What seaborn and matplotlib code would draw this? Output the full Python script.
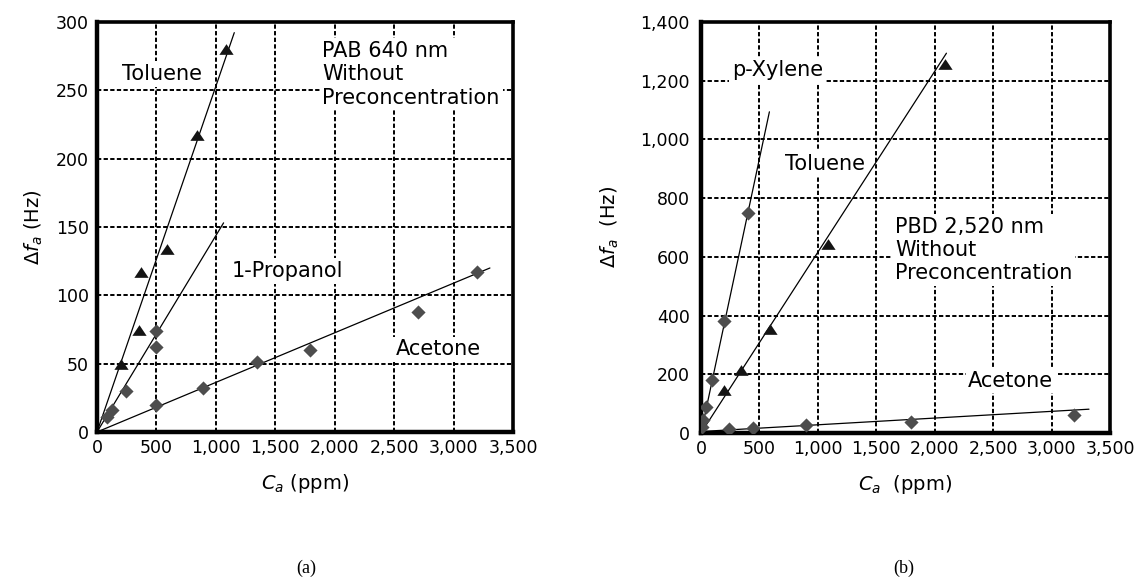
import matplotlib
matplotlib.use("Agg")
import matplotlib.pyplot as plt
from matplotlib.path import Path
from matplotlib.ticker import FuncFormatter, MultipleLocator
import seaborn as sns

# ---------------- data ----------------
# (a) PAB 640 nm, without preconcentration
a_toluene_x = [200, 355, 370, 590, 845, 1085]
a_toluene_y = [50, 75, 117, 134, 217, 280]
a_propanol_x = [85, 125, 245, 500, 500]
a_propanol_y = [11, 16, 30, 62, 74]
a_acetone_x = [500, 893, 1348, 1794, 2697, 3194]
a_acetone_y = [20, 32, 51, 60, 88, 117]
# linear fits: slope, intercept, end of drawn line (ppm)
a_fit_slope = [0.253, 0.1437, 0.0363]
a_fit_icpt = [0.0, 0.0, 0.0]
a_fit_xend = [1155, 1065, 3306]

# (b) PBD 2,520 nm, without preconcentration
b_xylene_x = [5, 15, 45, 95, 200, 400]
b_xylene_y = [20, 45, 88, 182, 380, 750]
b_toluene_x = [200, 345, 590, 1090, 2090]
b_toluene_y = [147, 215, 353, 645, 1258]
b_acetone_x = [235, 445, 900, 1795, 3190]
b_acetone_y = [12, 18, 26, 38, 60]
b_fit_slope = [1.87, 0.616, 0.0229]
b_fit_icpt = [0.0, 0.0, 5.0]
b_fit_xend = [585, 2100, 3320]

# ---------------- style ----------------
sns.set_theme(style="white")
plt.rcParams["font.family"] = ["DejaVu Sans"]
plt.rcParams["mathtext.fontset"] = "dejavusans"
plt.rcParams["text.color"] = "black"
plt.rcParams["axes.labelcolor"] = "black"

TRI = Path([(-1, -0.75), (1, -0.75), (0, 0.75), (-1, -0.75)],
           [Path.MOVETO, Path.LINETO, Path.LINETO, Path.CLOSEPOLY])
TRI_COLOR = "#141414"
DIA_COLOR = "#4d4d4d"
TICK_FS = 12.5
NOTE_FS = 15
LABEL_FS = 14
thousands = FuncFormatter(lambda v, p: f"{v:,.0f}")

fig = plt.figure(figsize=(11.44, 5.78), dpi=100)
ax_a = fig.add_axes([0.0848, 0.2526, 0.3636, 0.7093])
ax_b = fig.add_axes([0.6128, 0.2509, 0.3575, 0.7111])


def style_axes(ax, ymax, ystep, ypad):
    ax.set_xlim(0, 3500)
    ax.set_ylim(0, ymax)
    ax.xaxis.set_major_locator(MultipleLocator(500))
    ax.yaxis.set_major_locator(MultipleLocator(ystep))
    ax.xaxis.set_major_formatter(thousands)
    ax.yaxis.set_major_formatter(thousands)
    ax.set_axisbelow(True)
    ax.grid(True, color="black", linestyle=(0, (2.2, 1.2)), linewidth=1.4)
    ax.tick_params(axis="x", length=0, pad=5, labelsize=TICK_FS, colors="black")
    ax.tick_params(axis="y", length=0, pad=ypad, labelsize=TICK_FS, colors="black")
    for side, lw in (("left", 3.2), ("bottom", 3.2), ("top", 2.6), ("right", 2.6)):
        ax.spines[side].set_visible(True)
        ax.spines[side].set_color("black")
        ax.spines[side].set_linewidth(lw)
    ax.set_facecolor("white")


def fit_lines(ax, slopes, icpts, xends):
    for m, b, xe in zip(slopes, icpts, xends):
        sns.lineplot(x=[0, xe], y=[b, b + m * xe], ax=ax, color="black",
                     linewidth=0.9, zorder=2)


def points(ax, x, y, kind):
    if kind == "tri":
        sns.scatterplot(x=x, y=y, ax=ax, marker=TRI, s=105, color=TRI_COLOR,
                        linewidth=0, zorder=3)
    else:
        sns.scatterplot(x=x, y=y, ax=ax, marker="D", s=52, color=DIA_COLOR,
                        linewidth=0, zorder=3)


def note(ax, x, y, s, va="baseline"):
    ax.text(x, y, s, fontsize=NOTE_FS, ha="left", va=va, zorder=1.5,
            linespacing=1.2, color="black",
            bbox=dict(facecolor="white", edgecolor="none", pad=2))


# ---------------- panel (a) ----------------
style_axes(ax_a, 300, 50, 6)
fit_lines(ax_a, a_fit_slope, a_fit_icpt, a_fit_xend)
points(ax_a, a_toluene_x, a_toluene_y, "tri")
points(ax_a, a_propanol_x, a_propanol_y, "dia")
points(ax_a, a_acetone_x, a_acetone_y, "dia")
note(ax_a, 214, 257.6, "Toluene")
note(ax_a, 1131, 113.4, "1-Propanol")
note(ax_a, 2515, 56, "Acetone")
note(ax_a, 1897, 286, "PAB 640 nm\nWithout\nPreconcentration", va="top")
ax_a.set_xlabel(r"$C_a$ (ppm)", fontsize=LABEL_FS, labelpad=11)
ax_a.set_ylabel(r"$\Delta f_a$ (Hz)", fontsize=LABEL_FS, labelpad=8)

# ---------------- panel (b) ----------------
style_axes(ax_b, 1400, 200, 8)
fit_lines(ax_b, b_fit_slope, b_fit_icpt, b_fit_xend)
points(ax_b, b_xylene_x, b_xylene_y, "dia")
points(ax_b, b_toluene_x, b_toluene_y, "tri")
points(ax_b, b_acetone_x, b_acetone_y, "dia")
note(ax_b, 263, 1216, "p-Xylene")
note(ax_b, 719, 896, "Toluene")
note(ax_b, 2287, 158, "Acetone")
note(ax_b, 1660, 736, "PBD 2,520 nm\nWithout\nPreconcentration", va="top")
ax_b.set_xlabel(r"$C_a$  (ppm)", fontsize=LABEL_FS, labelpad=11)
ax_b.set_ylabel(r"$\Delta f_a$  (Hz)", fontsize=LABEL_FS, labelpad=14)

for ax in (ax_a, ax_b):
    leg = ax.get_legend()
    if leg is not None:
        leg.remove()

fig.text(0.268, 0.017, "(a)", ha="center", va="center", color="black",
         fontsize=13, family="Liberation Serif")
fig.text(0.790, 0.017, "(b)", ha="center", va="center", color="black",
         fontsize=13, family="Liberation Serif")

fig.savefig("out.png", dpi=100, facecolor="white")
